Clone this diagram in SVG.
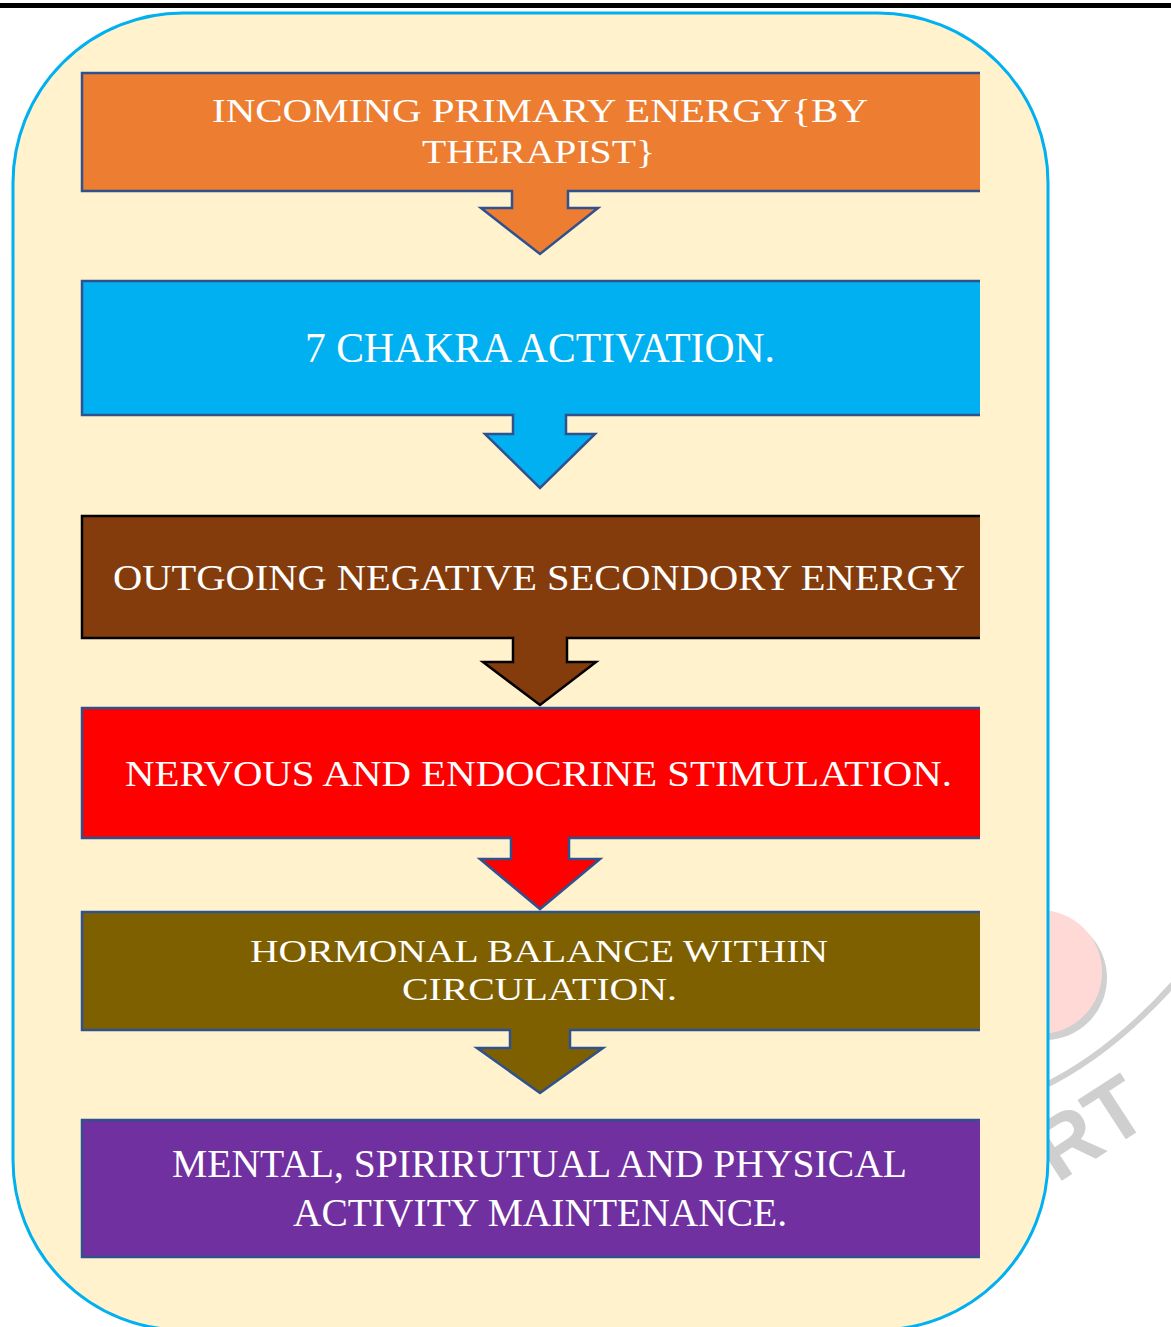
<svg xmlns="http://www.w3.org/2000/svg" width="1171" height="1327" viewBox="0 0 1171 1327">
<style>
.lbl{font-family:"Liberation Serif","Times New Roman",serif;fill:#ffffff;text-anchor:middle}
.edge{fill:none;stroke:#2F528F;stroke-width:2.5;stroke-linejoin:miter}
.edge.dark{stroke:#000000}
.wm{font-family:"Liberation Sans",Arial,sans-serif;font-weight:bold;fill:#CFCFCF}
</style>
<rect x="0" y="0" width="1171" height="1327" fill="#ffffff"/>
<rect x="0" y="3" width="1171" height="5" fill="#000000"/>
<g id="watermark">
<circle cx="1045" cy="978" r="62" fill="#D0D0D0"/>
<circle cx="1040" cy="972" r="62" fill="#FFD9D6"/>
<path d="M1040,1088 Q1110,1055 1175,982" fill="none" stroke="#D0D0D0" stroke-width="6"/>
<text class="wm" font-size="86" transform="translate(1057,1184) rotate(-33)">RT</text>
</g>
<rect id="container" x="13" y="13" width="1035" height="1317" rx="170" ry="170" fill="#FFF2CC" stroke="#00B0F0" stroke-width="3"/>
<g id="node1">
<path d="M82,73 H980 V191 H568 V208 H598 L540,254 L481,208 H512 V191 H82 Z" fill="#ED7D31"/>
<path class="edge" d="M980,73 H82 V191 H512 V208 H481 L540,254 L598,208 H568 V191 H980"/>
<text class="lbl" x="540" y="122" font-size="33" textLength="656" lengthAdjust="spacingAndGlyphs">INCOMING PRIMARY ENERGY{BY</text>
<text class="lbl" x="538.5" y="163" font-size="33" textLength="233" lengthAdjust="spacingAndGlyphs">THERAPIST}</text>
</g>
<g id="node2">
<path d="M82,281 H980 V415 H566 V434 H595 L540,488 L485,434 H513 V415 H82 Z" fill="#00B0F0"/>
<path class="edge" d="M980,281 H82 V415 H513 V434 H485 L540,488 L595,434 H566 V415 H980"/>
<text class="lbl" x="540" y="362" font-size="42" textLength="470" lengthAdjust="spacingAndGlyphs">7 CHAKRA ACTIVATION.</text>
</g>
<g id="node3">
<path d="M82,516 H980 V638 H567 V662 H596 L540,705 L483,662 H513 V638 H82 Z" fill="#843C0C"/>
<path class="edge dark" d="M980,516 H82 V638 H513 V662 H483 L540,705 L596,662 H567 V638 H980"/>
<text class="lbl" x="539" y="590" font-size="36" textLength="852" lengthAdjust="spacingAndGlyphs">OUTGOING NEGATIVE SECONDORY ENERGY</text>
</g>
<g id="node4">
<path d="M82,708 H980 V838 H569 V859 H600 L540,909 L480,859 H511 V838 H82 Z" fill="#FF0000"/>
<path class="edge" d="M980,708 H82 V838 H511 V859 H480 L540,909 L600,859 H569 V838 H980"/>
<text class="lbl" x="538.5" y="786" font-size="36" textLength="827" lengthAdjust="spacingAndGlyphs">NERVOUS AND ENDOCRINE STIMULATION.</text>
</g>
<g id="node5">
<path d="M82,912 H980 V1030 H570 V1048 H603 L540,1093 L477,1048 H510 V1030 H82 Z" fill="#7F6000"/>
<path class="edge" d="M980,912 H82 V1030 H510 V1048 H477 L540,1093 L603,1048 H570 V1030 H980"/>
<text class="lbl" x="539" y="962" font-size="31" textLength="578" lengthAdjust="spacingAndGlyphs">HORMONAL BALANCE WITHIN</text>
<text class="lbl" x="539.5" y="1000" font-size="31" textLength="275" lengthAdjust="spacingAndGlyphs">CIRCULATION.</text>
</g>
<g id="node6">
<rect x="82" y="1120" width="898" height="137" fill="#7030A0"/>
<path class="edge" d="M980,1120 H82 V1257 H980"/>
<text class="lbl" x="539.5" y="1177" font-size="40" textLength="735" lengthAdjust="spacingAndGlyphs">MENTAL, SPIRIRUTUAL AND PHYSICAL</text>
<text class="lbl" x="540" y="1226" font-size="40" textLength="494" lengthAdjust="spacingAndGlyphs">ACTIVITY MAINTENANCE.</text>
</g>
<g id="connectors"></g>
</svg>
